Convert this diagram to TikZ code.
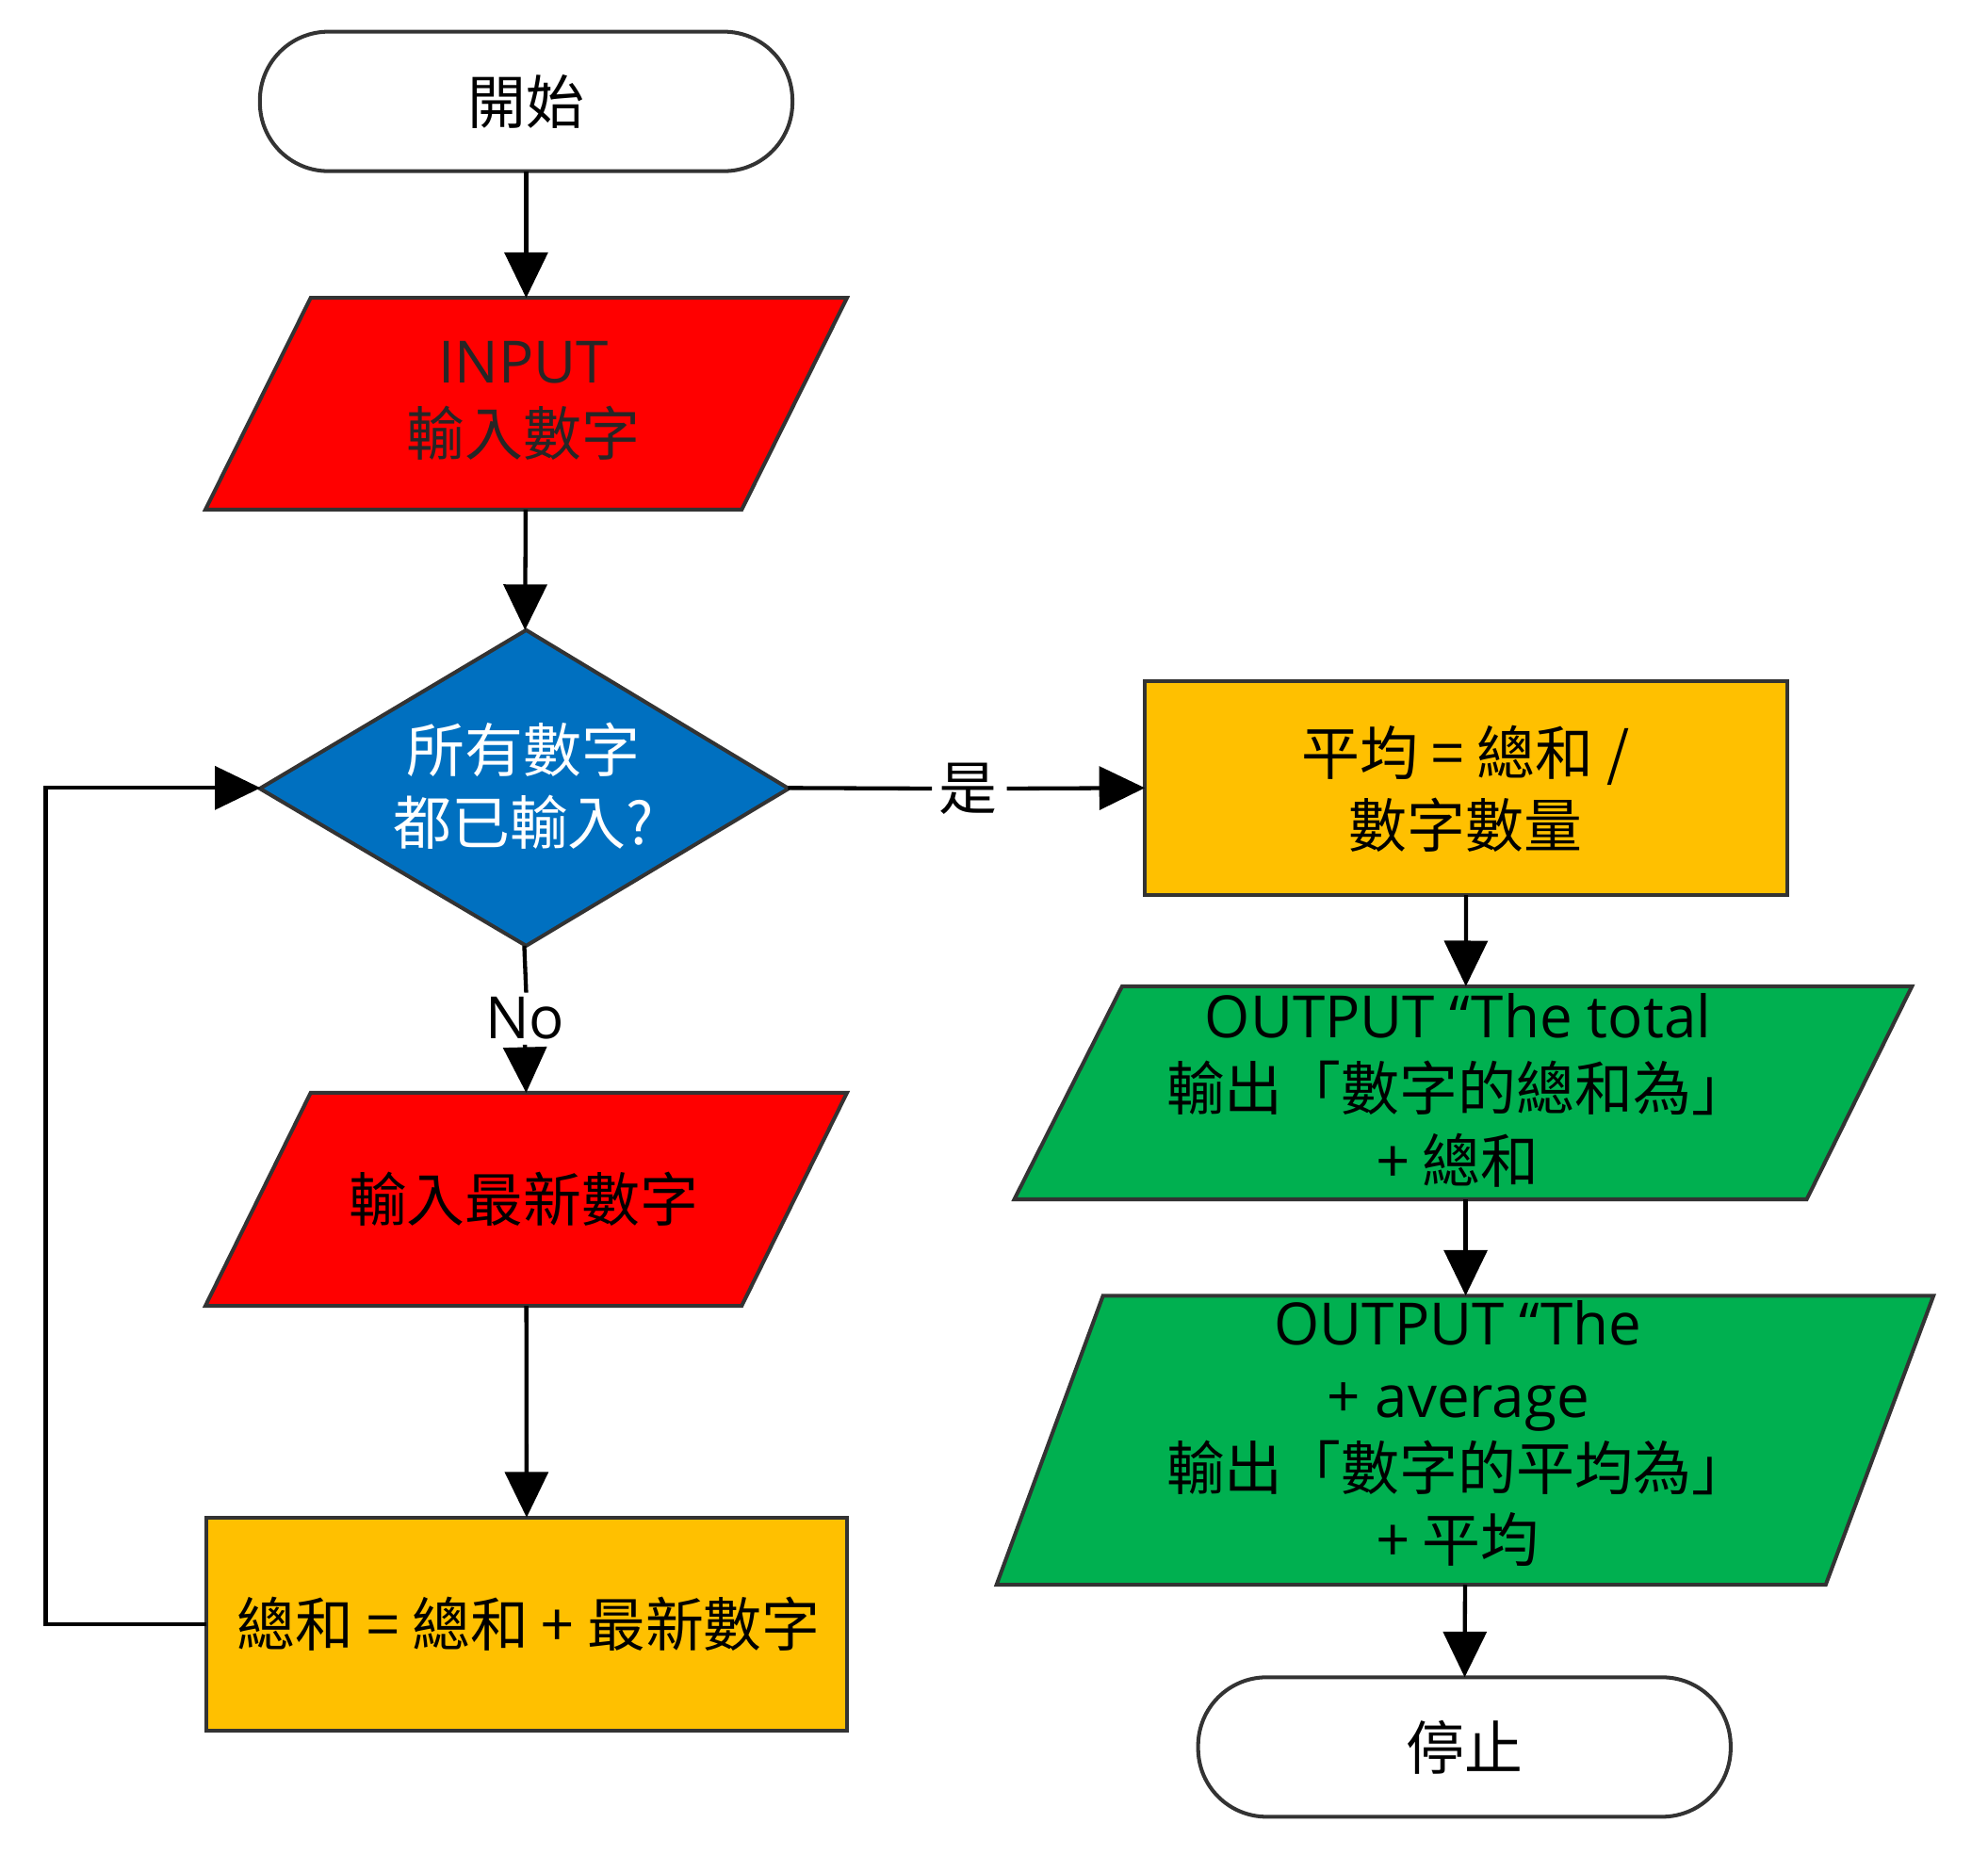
\documentclass[tikz,border=0pt]{standalone}
\usepackage{fontspec}
\setmainfont{Noto Sans CJK TC}
\newfontfamily\lat{Open Sans}
\usetikzlibrary{arrows.meta}
\definecolor{cred}{HTML}{FF0000}
\definecolor{cblue}{HTML}{0070C0}
\definecolor{cyel}{HTML}{FFC000}
\definecolor{cgrn}{HTML}{00B050}
\begin{document}
\begin{tikzpicture}[x=0.5pt,y=-0.5pt,
  shp/.style={draw=black!80,line width=1.5pt},
  lbl/.style={font=\fontsize{23}{28.5}\selectfont,align=center,inner sep=0},
  box/.style={inner sep=0,outer sep=0},
  arr/.style={line width=1.6pt,-{Triangle[length=18pt,width=17pt]}},
  ln/.style={line width=1.6pt}]
\useasboundingbox[fill=white] (0,0) rectangle (1568,1476);
% start
\node[box,shp,rounded corners=27pt,minimum width=210pt,minimum height=55pt,lbl] (start) at (415,80) {開始};
% input
\fill[cred,shp] (245,235)--(668,235)--(585,402)--(162,402)--cycle;
\node[box,minimum width=211pt,minimum height=83.5pt] (inp) at (415,318.5) {};
\node[lbl,text=black!85] at (413,316) {{\lat INPUT}\\輸入數字};
% decision
\fill[cblue,shp] (415,497)--(622,622)--(415,746)--(205,622)--cycle;
\node[box,minimum width=208pt,minimum height=124.5pt] (dec) at (413.5,621.5) {};
\node[lbl,text=white] at (413,620) {所有數字\\都已輸入?};
% avg
\node[box,shp,fill=cyel,minimum width=253.5pt,minimum height=84.5pt] (avg) at (1156.5,621.5) {};
\node[lbl] at (1156,622) {平均 = 總和 /\\數字數量};
% input new
\fill[cred,shp] (245,862)--(668,862)--(585,1030)--(162,1030)--cycle;
\node[box,minimum width=211pt,minimum height=84pt] (inew) at (415,946) {};
\node[lbl] at (413,946) {輸入最新數字};
% sum
\node[box,shp,fill=cyel,minimum width=252.5pt,minimum height=84pt] (sum) at (415.5,1281) {};
\node[lbl] at (417,1281) {總和 = 總和 + 最新數字};
% out1
\fill[cgrn,shp] (885,778)--(1508,778)--(1425,946)--(800,946)--cycle;
\node[box,minimum width=300pt,minimum height=84pt] (o1) at (1156,862) {};
\node[lbl] at (1150,860) {{\lat OUTPUT “The total}\\輸出「數字的總和為」\\+ 總和};
% out2
\fill[cgrn,shp] (870,1022)--(1525,1022)--(1440,1250)--(786,1250)--cycle;
\node[box,minimum width=300pt,minimum height=114pt] (o2) at (1156,1136) {};
\node[lbl] at (1150,1131) {{\lat OUTPUT “The}\\{\lat + average}\\輸出「數字的平均為」\\+ 平均};
% stop
\node[box,shp,rounded corners=27pt,minimum width=210pt,minimum height=55pt,lbl] (stop) at (1155,1378) {停止};
% connectors
\draw[arr] (start) -- (inp);
\draw[arr] (inp) -- (dec);
\draw[ln] (dec.east) -- (735,622) node[right=2pt,lbl] (yes) {是};
\draw[arr] (yes.east) ++(3pt,0) -- (avg.west);
\draw[ln] (dec.south) -- (415,783);
\node[lbl] (no) at (414,803) {\lat No};
\draw[arr] (no.south) ++(0,-2pt) -- (inew.north);
\draw[arr] (inew) -- (sum);
\draw[arr] (sum.west) -- (36,1281) |- (dec.west);
\draw[arr] (avg) -- (o1);
\draw[arr] (o1) -- (o2);
\draw[arr] (o2) -- (stop);
\end{tikzpicture}
\end{document}
